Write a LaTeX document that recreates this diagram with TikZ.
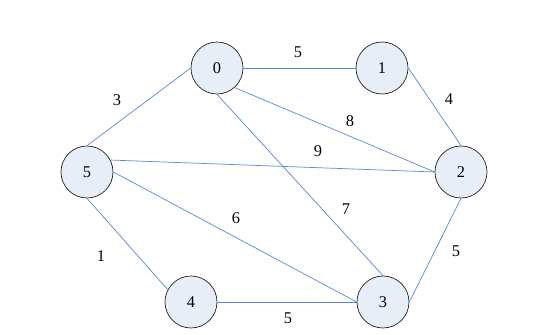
\documentclass[tikz,border=0pt]{standalone}
\usepackage{fontspec}
\setmainfont{Liberation Serif}
\definecolor{edgeblue}{RGB}{88,137,206}
\definecolor{vfill}{RGB}{232,238,248}
\tikzset{
  vertex/.style={circle, draw=black!85, fill=vfill, line width=0.6pt, minimum size=1.56cm, inner sep=0pt, font=\fontsize{14}{16}\selectfont},
  link/.style={draw=edgeblue, line width=0.6pt},
  weight/.style={inner sep=0pt, font=\fontsize{14}{16}\selectfont}
}
\begin{document}
\begin{tikzpicture}[x=0.03cm,y=-0.03cm]
\useasboundingbox (0,0) rectangle (554,335);
\node[vertex] (v0) at (217,68) {0};
\node[vertex] (v1) at (382,68) {1};
\node[vertex] (v2) at (461,172) {2};
\node[vertex] (v3) at (383,302) {3};
\node[vertex] (v4) at (191,302) {4};
\node[vertex] (v5) at (87,172) {5};
% edges
\draw[link] (v0.east) -- (v1.west);
\draw[link] (v0.west) -- (v5.north);
\draw[link] (v1.east) -- (v2.north);
\draw[link] (v0.-48) -- (v2.west);
\draw[link] (v0.south) -- (v3.north);
\draw[link] (v5.27) -- (v2.west);
\draw[link] (v5.east) -- (v3.west);
\draw[link] (v5.south) -- (v4.152);
\draw[link] (v4.east) -- (v3.west);
\draw[link] (v2.south) -- (v3.east);
% weights
\node[weight] (w01) at (298,52) {5};
\node[weight] (w05) at (117,100) {3};
\node[weight] (w12) at (449,99) {4};
\node[weight] (w02) at (350,121) {8};
\node[weight] (w52) at (318,151) {9};
\node[weight] (w03) at (346,209) {7};
\node[weight] (w53) at (236,218) {6};
\node[weight] (w54) at (101,256) {1};
\node[weight] (w23) at (456,251) {5};
\node[weight] (w43) at (288,318) {5};
\end{tikzpicture}
\end{document}
